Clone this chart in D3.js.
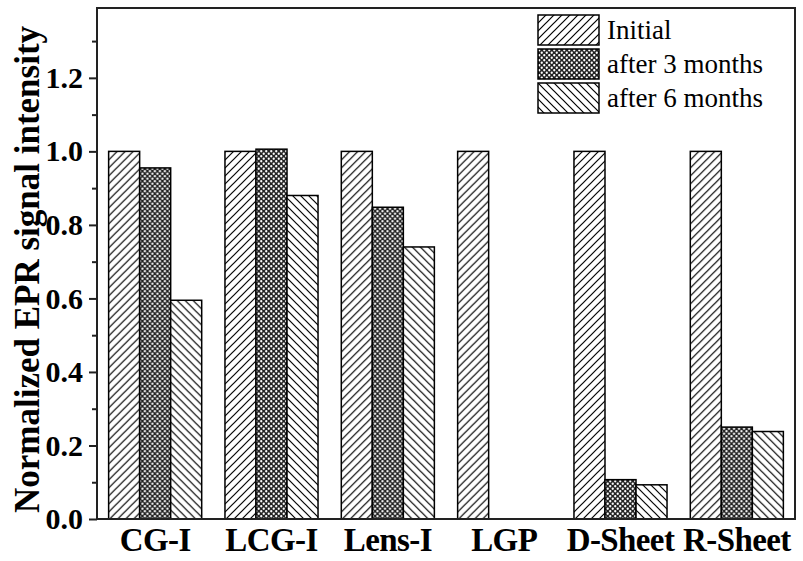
<!DOCTYPE html>
<html lang="en">
<head>
  <meta charset="UTF-8">
  <title>Normalized EPR signal intensity</title>
  <script src="https://d3js.org/d3.v7.min.js"></script>
  <style>
    body { margin: 0; background: #fff; }
  </style>
</head>
<body>
  <div id="chart"></div>

  <script>
    // data
    const categories = ["CG-I", "LCG-I", "Lens-I", "LGP", "D-Sheet", "R-Sheet"];
    const seriesNames = ["Initial", "after 3 months", "after 6 months"];
    const initial = [1.0, 1.0, 1.0, 1.0, 1.0, 1.0];
    const after3 = [0.955, 1.006, 0.848, null, 0.107, 0.25];
    const after6 = [0.595, 0.88, 0.74, null, 0.093, 0.238];
    const yTicks = [0, 0.2, 0.4, 0.6, 0.8, 1.0, 1.2];
    const yMinorTicks = [0.1, 0.3, 0.5, 0.7, 0.9, 1.1, 1.3];

    const allSeries = [initial, after3, after6];
    const patternIds = ["pat-fwd", "pat-dots", "pat-back"];
    const serif = "'Liberation Serif', 'Times New Roman', serif";

    const width = 803, height = 561;
    const margin = { top: 8, right: 8, bottom: 42, left: 97 };

    const svg = d3.select("#chart").append("svg")
      .attr("width", width)
      .attr("height", height)
      .attr("font-family", serif);

    // hatch patterns
    const defs = svg.append("defs");

    const fwd = defs.append("pattern")
      .attr("id", "pat-fwd")
      .attr("patternUnits", "userSpaceOnUse")
      .attr("width", 8).attr("height", 8);
    fwd.append("rect").attr("width", 8).attr("height", 8).attr("fill", "#fff");
    fwd.append("path")
      .attr("d", "M0,8 L8,0 M-2,2 L2,-2 M6,10 L10,6")
      .attr("stroke", "#000").attr("stroke-width", 1.2);

    const back = defs.append("pattern")
      .attr("id", "pat-back")
      .attr("patternUnits", "userSpaceOnUse")
      .attr("width", 8).attr("height", 8);
    back.append("rect").attr("width", 8).attr("height", 8).attr("fill", "#fff");
    back.append("path")
      .attr("d", "M0,0 L8,8 M-2,6 L2,10 M6,-2 L10,2")
      .attr("stroke", "#000").attr("stroke-width", 1.2);

    const dots = defs.append("pattern")
      .attr("id", "pat-dots")
      .attr("patternUnits", "userSpaceOnUse")
      .attr("width", 5).attr("height", 5);
    dots.append("rect").attr("width", 5).attr("height", 5).attr("fill", "#222");
    dots.append("circle").attr("cx", 1.25).attr("cy", 1.25).attr("r", 1.15).attr("fill", "#fff");
    dots.append("circle").attr("cx", 3.75).attr("cy", 3.75).attr("r", 1.15).attr("fill", "#fff");

    // scales
    const x0 = d3.scaleBand()
      .domain(categories)
      .range([margin.left, width - margin.right])
      .paddingInner(0.2)
      .paddingOuter(0.1);

    const x1 = d3.scaleBand()
      .domain(d3.range(seriesNames.length))
      .range([0, x0.bandwidth()]);

    const y = d3.scaleLinear()
      .domain([0, 1.39])
      .range([height - margin.bottom, margin.top]);

    // bars
    const groups = svg.append("g").selectAll("g")
      .data(categories)
      .join("g")
      .attr("transform", d => `translate(${x0(d)},0)`);

    groups.selectAll("rect")
      .data((d, i) => allSeries.map((s, j) => ({ key: j, value: s[i] })).filter(e => e.value != null))
      .join("rect")
      .attr("x", d => x1(d.key))
      .attr("width", x1.bandwidth())
      .attr("y", d => y(d.value))
      .attr("height", d => y(0) - y(d.value))
      .attr("fill", d => `url(#${patternIds[d.key]})`)
      .attr("stroke", "#000")
      .attr("stroke-width", 1.5);

    // frame
    svg.append("rect")
      .attr("x", margin.left)
      .attr("y", margin.top)
      .attr("width", width - margin.left - margin.right)
      .attr("height", height - margin.top - margin.bottom)
      .attr("fill", "none")
      .attr("stroke", "#222")
      .attr("stroke-width", 2);

    // y axis
    const yAxis = svg.append("g")
      .attr("transform", `translate(${margin.left},0)`)
      .call(d3.axisLeft(y).tickValues(yTicks).tickFormat(d3.format(".1f")).tickSize(8).tickPadding(6))
      .attr("font-family", serif);
    yAxis.select(".domain").remove();
    yAxis.selectAll("line").attr("stroke-width", 2).attr("stroke", "#222");
    yAxis.selectAll("text")
      .attr("font-size", 30)
      .attr("font-weight", "bold")
      .attr("fill", "#000");

    const yMinor = svg.append("g")
      .attr("transform", `translate(${margin.left},0)`)
      .call(d3.axisLeft(y).tickValues(yMinorTicks).tickSize(5).tickFormat(""));
    yMinor.select(".domain").remove();
    yMinor.selectAll("line").attr("stroke-width", 2).attr("stroke", "#222");

    // x labels
    const xAxis = svg.append("g")
      .attr("transform", `translate(0,${height - margin.bottom})`)
      .call(d3.axisBottom(x0).tickSize(0).tickPadding(9))
      .attr("font-family", serif);
    xAxis.select(".domain").remove();
    xAxis.selectAll("text")
      .attr("font-size", 33)
      .attr("font-weight", "bold")
      .attr("letter-spacing", -0.6)
      .attr("fill", "#000");

    // y axis title
    svg.append("text")
      .attr("transform", `translate(39,${(margin.top + height - margin.bottom) / 2 + 6}) rotate(-90)`)
      .attr("text-anchor", "middle")
      .attr("font-size", 35)
      .attr("font-weight", "bold")
      .text("Normalized EPR signal intensity");

    // legend
    const legend = svg.append("g")
      .attr("transform", "translate(538,15)");
    const items = legend.selectAll("g")
      .data(seriesNames)
      .join("g")
      .attr("transform", (d, i) => `translate(0,${i * 34})`);
    items.append("rect")
      .attr("width", 61)
      .attr("height", 30)
      .attr("fill", (d, i) => `url(#${patternIds[i]})`)
      .attr("stroke", "#000")
      .attr("stroke-width", 1.5);
    items.append("text")
      .attr("x", 69)
      .attr("y", 15)
      .attr("dy", "0.35em")
      .attr("font-size", 27)
      .text(d => d);
  </script>
</body>
</html>
